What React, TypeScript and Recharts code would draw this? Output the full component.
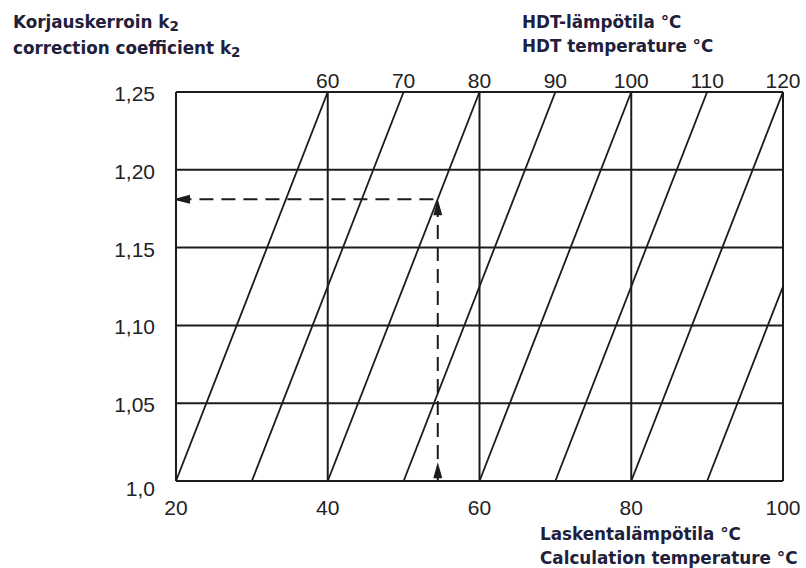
import { ComposedChart, Line, XAxis, YAxis, CartesianGrid } from "recharts";

// calculation temperature axis (bottom) and k2 axis (left)
const xTicks = [20, 40, 60, 80, 100];
const yTicks = [1.0, 1.05, 1.1, 1.15, 1.2, 1.25];
const yTickLabels = ["1,0", "1,05", "1,10", "1,15", "1,20", "1,25"];

// HDT temperature scale along the top edge
const hdtTickPos = [40, 50, 60, 70, 80, 90, 100];
const hdtLabels = ["60", "70", "80", "90", "100", "110", "120"];

// diagonal HDT lines: start at k=1.0, end at (endX, endK)
const lineStartX = [20, 30, 40, 50, 60, 70, 80, 90];
const lineEndX = [40, 50, 60, 70, 80, 90, 100, 100];
const lineEndK = [1.25, 1.25, 1.25, 1.25, 1.25, 1.25, 1.25, 1.125];

// dashed reading example
const dashX = [54.5, 54.5, 20];
const dashK = [1.0, 1.181, 1.181];
const arrowX = [54.5, 54.5, 20];
const arrowK = [1.012, 1.181, 1.181];
const arrowDir = ["up", "up", "left"];

const diagSeries = lineStartX.map((x0, i) => [
  { x: x0, k: 1.0 },
  { x: lineEndX[i], k: lineEndK[i] },
]);
const dashData = dashX.map((x, i) => ({ x, k: dashK[i] }));
const arrowData = arrowX.map((x, i) => ({ x, k: arrowK[i], dir: arrowDir[i] }));

const INK = "#1c1c1c";
const tickFont = { fontFamily: "Liberation Sans", fontSize: 21, fill: "#222" };
const titleStyle: React.CSSProperties = {
  position: "absolute",
  fontFamily: "DejaVu Sans",
  fontWeight: 700,
  fontSize: 16.8,
  lineHeight: "24px",
  color: "#20203c",
  whiteSpace: "nowrap",
};
const subStyle: React.CSSProperties = { fontSize: "0.8em", position: "relative", top: "0.25em" };

const YTick = (props: any) => {
  const { x, y, payload } = props;
  const label = yTickLabels[yTicks.indexOf(payload.value)];
  return (
    <text x={x} y={y} dy={payload.value === 1 ? 15 : 9} textAnchor="end" {...tickFont}>
      {label}
    </text>
  );
};

const renderArrow = (props: any) => {
  const { cx, cy, index, payload } = props;
  if (cx == null || cy == null) return <g key={index} />;
  const d =
    payload.dir === "left"
      ? `M${cx - 3},${cy} L${cx + 14},${cy - 4.5} L${cx + 14},${cy + 4.5} Z`
      : `M${cx},${cy} L${cx - 4.5},${cy + 16} L${cx + 4.5},${cy + 16} Z`;
  return <path key={index} d={d} fill={INK} stroke="none" />;
};

export default function App() {
  return (
    <div style={{ position: "absolute", left: 0, top: 0, width: 806, height: 568, background: "#fff" }}>
      <ComposedChart width={806} height={568} margin={{ top: 62, right: 23, bottom: 57, left: 0 }}>
        <CartesianGrid xAxisId="bottom" stroke={INK} strokeWidth={2} />
        <XAxis
          xAxisId="bottom"
          dataKey="x"
          type="number"
          domain={[20, 100]}
          ticks={xTicks}
          allowDataOverflow
          height={30}
          axisLine={false}
          tickLine={false}
          tickSize={19}
          tickMargin={0}
          tick={tickFont}
        />
        <XAxis
          xAxisId="top"
          orientation="top"
          dataKey="x"
          type="number"
          domain={[20, 100]}
          ticks={hdtTickPos}
          tickFormatter={(v) => hdtLabels[hdtTickPos.indexOf(v)]}
          allowDataOverflow
          height={30}
          axisLine={false}
          tickLine={false}
          tickSize={4}
          tickMargin={0}
          tick={tickFont}
        />
        <YAxis
          dataKey="k"
          type="number"
          domain={[1.0, 1.25]}
          ticks={yTicks}
          allowDataOverflow
          width={176}
          axisLine={false}
          tickLine={false}
          tickSize={21}
          tickMargin={0}
          tick={<YTick />}
        />
        {diagSeries.map((d, i) => (
          <Line
            key={i}
            xAxisId="bottom"
            data={d}
            dataKey="k"
            stroke={INK}
            strokeWidth={1.8}
            dot={false}
            activeDot={false}
            type="linear"
            isAnimationActive={false}
          />
        ))}
        <Line
          xAxisId="bottom"
          data={dashData}
          dataKey="k"
          stroke={INK}
          strokeWidth={2}
          strokeDasharray="14 8"
          dot={false}
          activeDot={false}
          type="linear"
          isAnimationActive={false}
        />
        <Line
          xAxisId="bottom"
          data={arrowData}
          dataKey="k"
          stroke="none"
          dot={renderArrow}
          activeDot={false}
          type="linear"
          isAnimationActive={false}
        />
      </ComposedChart>
      <div style={{ ...titleStyle, left: 13, top: 10 }}>
        Korjauskerroin k<span style={subStyle}>2</span>
        <br />
        correction coefficient k<span style={subStyle}>2</span>
      </div>
      <div style={{ ...titleStyle, left: 522, top: 10 }}>
        HDT-lämpötila °C
        <br />
        HDT temperature °C
      </div>
      <div style={{ ...titleStyle, left: 540, top: 522 }}>
        Laskentalämpötila °C
        <br />
        Calculation temperature °C
      </div>
    </div>
  );
}
